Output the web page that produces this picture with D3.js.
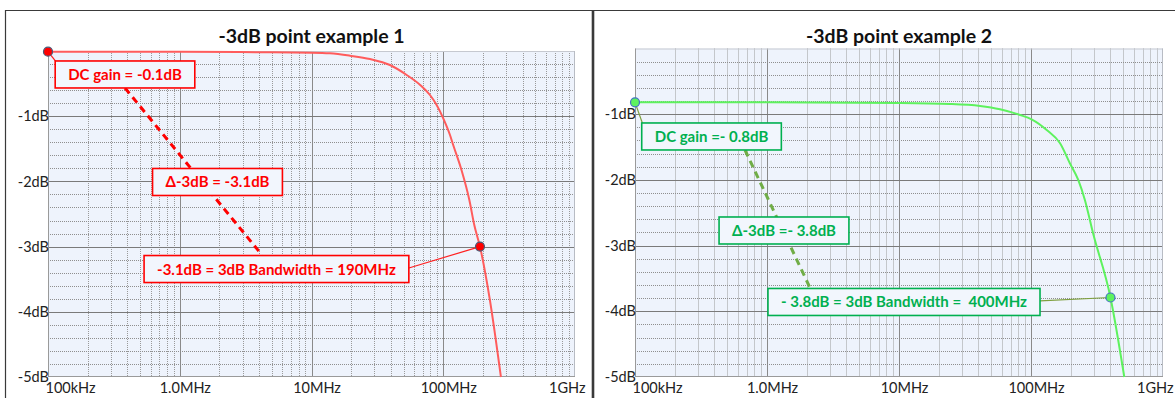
<!DOCTYPE html>
<html><head><meta charset="utf-8">
<script src="https://cdn.jsdelivr.net/npm/d3@7"></script>
<style>
body{margin:0;background:#fff}
svg{display:block}
text{font-family:Lato,"Open Sans",sans-serif}
</style>
</head><body>
<svg id="chart" width="1175" height="398"></svg>
<script>
// ---------- data ----------
const freq1 = [1e5, 1e6, 5e6, 1e7, 1.38e7, 1.96e7, 2.78e7, 3.94e7, 5.28e7, 6.68e7, 7.93e7, 8.91e7, 1.0e8, 1.125e8, 1.19e8, 1.375e8, 1.578e8, 1.72e8, 1.9e8, 2.26e8, 2.74e8];
const gain1 = [-0.01, -0.01, -0.02, -0.025, -0.035, -0.072, -0.123, -0.215, -0.368, -0.521, -0.675, -0.828, -1.032, -1.288, -1.442, -1.825, -2.285, -2.669, -3.0, -3.82, -5.0];
const freq2 = [1e5, 1e6, 1e7, 2.43e7, 4.11e7, 5.82e7, 8.26e7, 1.01e8, 1.315e8, 1.66e8, 1.97e8, 2.28e8, 2.56e8, 2.95e8, 4.0e8, 5.09e8];
const gain2 = [-0.82, -0.82, -0.83, -0.845, -0.875, -0.925, -1.012, -1.078, -1.24, -1.443, -1.747, -2.0, -2.306, -2.81, -3.79, -5.0];

const xTickValues = [1e5, 1e6, 1e7, 1e8, 1e9];
const xTickLabels = ["100kHz", "1.0MHz", "10MHz", "100MHz", "1GHz"];
const yTickValues = [-1, -2, -3, -4, -5];
const yTickLabels = ["-1dB", "-2dB", "-3dB", "-4dB", "-5dB"];
const titles = ["-3dB point example 1", "-3dB point example 2"];

const dcPoint1 = [1e5, -0.01];
const bwPoint1 = [1.9e8, -3.0];
const dcPoint2 = [1e5, -0.82];
const bwPoint2 = [4.0e8, -3.79];

const labels1 = ["DC gain = -0.1dB", "Δ-3dB = -3.1dB", "-3.1dB = 3dB Bandwidth = 190MHz"];
const labels2 = ["DC gain =- 0.8dB", "Δ-3dB =- 3.8dB", "- 3.8dB = 3dB Bandwidth =  400MHz"];

// ---------- layout / style ----------
const panels = [
  {
    left: 48, right: 575, top: 51, bottom: 377,
    freq: freq1, gain: gain1, dc: dcPoint1, bw: bwPoint1, labels: labels1, title: titles[0],
    curve: "#FF5C5C", markerFill: "#FF0000", markerStroke: "#4A5A78",
    text: "#FF0000", border: "#FF0000", dash: "#FF0000", leader: "#FF2020",
    boxAnchors: [[3.84e5, -0.36], [1.934e6, -2.009], [5.42e6, -3.344]],
    dashFrom: [3.84e5, -0.567], dashTo: [4.21e6, -3.129]
  },
  {
    left: 635, right: 1163, top: 48.5, bottom: 377,
    freq: freq2, gain: gain2, dc: dcPoint2, bw: bwPoint2, labels: labels2, title: titles[1],
    curve: "#5EF25E", markerFill: "#5EF25E", markerStroke: "#4472C4",
    text: "#00B050", border: "#00B050", dash: "#70AD47", leader: "#7FA040",
    boxAnchors: [[3.80e5, -1.339], [1.345e6, -2.770], [1.091e7, -3.858]],
    dashFrom: [6.81e5, -1.545], dashTo: [2.12e6, -3.645]
  }
];

const svg = d3.select("#chart");
svg.append("rect").attr("width", 1175).attr("height", 398).attr("fill", "#fff");

// frames
svg.append("line").attr("x1", 5).attr("x2", 1175).attr("y1", 10.5).attr("y2", 10.5).attr("stroke", "#3a3a3a").attr("stroke-width", 1.2);
svg.append("line").attr("x1", 5.5).attr("x2", 5.5).attr("y1", 10).attr("y2", 398).attr("stroke", "#3a3a3a").attr("stroke-width", 1.2);
svg.append("line").attr("x1", 593).attr("x2", 593).attr("y1", 10).attr("y2", 398).attr("stroke", "#3a3a3a").attr("stroke-width", 2.6);

panels.forEach(p => {
  const x = d3.scaleLog().domain([1e5, 1e9]).range([p.left, p.right]);
  const y = d3.scaleLinear().domain([-5, 0]).range([p.bottom, p.top]);
  const g = svg.append("g");

  g.append("rect").attr("x", p.left).attr("y", p.top).attr("width", p.right - p.left).attr("height", p.bottom - p.top).attr("fill", "#EEF3FC");

  // minor grid
  const minorX = [];
  for (let d = 1e5; d < 1e9; d *= 10) for (let k = 2; k <= 9; k++) minorX.push(d * k);
  const minorY = d3.range(0, 25).map(i => -i * 0.2).filter(v => Math.abs(v - Math.round(v)) > 1e-6);
  g.selectAll(".mx").data(minorX).join("line")
    .attr("x1", d => Math.round(x(d)) + 0.5).attr("x2", d => Math.round(x(d)) + 0.5)
    .attr("y1", p.top).attr("y2", p.bottom)
    .attr("stroke", "#9a9a9a").attr("stroke-dasharray", "1,1").attr("stroke-width", 1);
  g.selectAll(".my").data(minorY).join("line")
    .attr("y1", d => Math.round(y(d)) + 0.5).attr("y2", d => Math.round(y(d)) + 0.5)
    .attr("x1", p.left).attr("x2", p.right)
    .attr("stroke", "#8f8f8f").attr("stroke-dasharray", "1,1").attr("stroke-width", 1);
  // major grid
  g.selectAll(".Mx").data(xTickValues.slice(1, -1)).join("line")
    .attr("x1", d => Math.round(x(d)) + 0.5).attr("x2", d => Math.round(x(d)) + 0.5)
    .attr("y1", p.top).attr("y2", p.bottom).attr("stroke", "#8a8a8a");
  g.selectAll(".My").data(yTickValues.slice(0, -1)).join("line")
    .attr("y1", d => Math.round(y(d)) + 0.5).attr("y2", d => Math.round(y(d)) + 0.5)
    .attr("x1", p.left).attr("x2", p.right).attr("stroke", "#7a7a7a");
  // plot border
  g.append("line").attr("x1", p.left).attr("x2", p.right).attr("y1", p.top + 0.5).attr("y2", p.top + 0.5).attr("stroke", "#c6c9d0");
  g.append("line").attr("x1", p.right - 0.5).attr("x2", p.right - 0.5).attr("y1", p.top).attr("y2", p.bottom).attr("stroke", "#b8bcc4");
  g.append("line").attr("x1", p.left + 0.5).attr("x2", p.left + 0.5).attr("y1", p.top).attr("y2", p.bottom).attr("stroke", "#9a9a9a");
  g.append("line").attr("x1", p.left).attr("x2", p.right).attr("y1", p.bottom - 0.5).attr("y2", p.bottom - 0.5).attr("stroke", "#9a9a9a");

  // axes
  const ya = g.append("g").attr("transform", `translate(${p.left + 1},0)`)
    .call(d3.axisLeft(y).tickValues(yTickValues).tickFormat((d, i) => yTickLabels[i]).tickSize(0).tickPadding(0));
  ya.select(".domain").remove();
  ya.selectAll("text").attr("font-size", 14.5).attr("fill", "#222").style("font-family", "Lato, sans-serif");

  const last = xTickValues.length - 1;
  const xa = g.append("g").attr("transform", `translate(0,${p.bottom})`)
    .call(d3.axisBottom(x).tickValues(xTickValues).tickFormat((d, i) => xTickLabels[i]).tickSize(0).tickPadding(6));
  xa.select(".domain").remove();
  xa.selectAll("text").attr("font-size", 14.5).attr("fill", "#222").style("font-family", "Lato, sans-serif")
    .attr("text-anchor", (d, i) => i === 0 ? "start" : (i === last ? "end" : "middle"))
    .attr("dx", (d, i) => i === 0 ? -3 : (i === last ? 10 : 5));

  // title
  g.append("text").attr("x", (p.left + p.right) / 2).attr("y", 43).attr("text-anchor", "middle")
    .attr("font-size", 19.5).attr("font-weight", "bold").attr("fill", "#111").text(p.title);

  // curve
  const pts = p.freq.map((f, i) => [f, p.gain[i]]);
  g.append("path").datum(pts)
    .attr("d", d3.line().x(d => x(d[0])).y(d => y(d[1])).curve(d3.curveMonotoneX))
    .attr("fill", "none").attr("stroke", p.curve).attr("stroke-width", 2);

  // boxes geometry
  const boxH = 27, pad = 13, fs = 15;
  const tmp = g.append("g");
  const boxes = p.labels.map((t, i) => {
    const tt = tmp.append("text").attr("font-size", fs).attr("font-weight", "bold").style("white-space", "pre").text(t);
    const w = tt.node().getComputedTextLength() + 2 * pad;
    tt.remove();
    const cx = x(p.boxAnchors[i][0]), cy = y(p.boxAnchors[i][1]);
    return {t, w, cx, cy, x0: cx - w / 2, y0: cy - boxH / 2};
  });
  tmp.remove();

  // dashed connector
  g.append("line")
    .attr("x1", x(p.dashFrom[0])).attr("y1", y(p.dashFrom[1]))
    .attr("x2", x(p.dashTo[0])).attr("y2", y(p.dashTo[1]))
    .attr("stroke", p.dash).attr("stroke-width", 3).attr("stroke-dasharray", "7,5");

  // leaders
  g.append("line").attr("x1", x(p.dc[0])).attr("y1", y(p.dc[1]))
    .attr("x2", boxes[0].x0 + 1).attr("y2", boxes[0].y0 + 1)
    .attr("stroke", p.leader).attr("stroke-width", 1.2);
  g.append("line").attr("x1", boxes[2].x0 + boxes[2].w).attr("y1", boxes[2].cy - 1)
    .attr("x2", x(p.bw[0])).attr("y2", y(p.bw[1]))
    .attr("stroke", p.leader).attr("stroke-width", 1.2);

  // boxes
  boxes.forEach(b => {
    g.append("rect").attr("x", b.x0).attr("y", b.y0).attr("width", b.w).attr("height", boxH)
      .attr("fill", "#F2F6FD").attr("stroke", p.border).attr("stroke-width", 1.6);
    g.append("text").attr("x", b.cx).attr("y", b.cy + 5.5).attr("text-anchor", "middle")
      .attr("font-size", fs).attr("font-weight", "bold").attr("fill", p.text).style("white-space", "pre").text(b.t);
  });

  // markers
  [p.dc, p.bw].forEach(m => {
    g.append("circle").attr("cx", x(m[0])).attr("cy", y(m[1])).attr("r", 4.5)
      .attr("fill", p.markerFill).attr("stroke", p.markerStroke).attr("stroke-width", 1.2);
  });
});
</script>
</body></html>
